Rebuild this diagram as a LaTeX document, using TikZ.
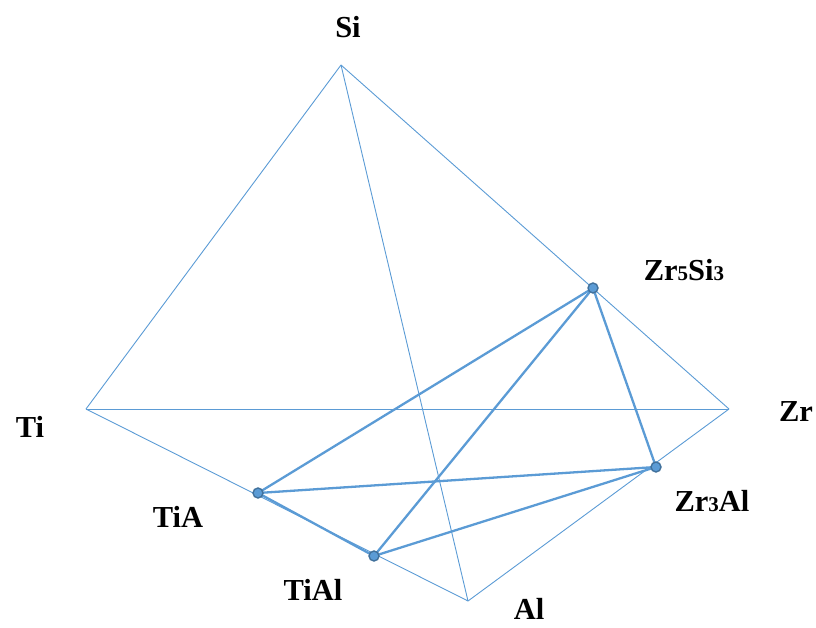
\documentclass[tikz,border=0pt]{standalone}
\usepackage{fontspec}
\setmainfont{Liberation Serif}
\begin{document}
\begin{tikzpicture}[x=1pt,y=-1pt,
  thinedge/.style={draw=edgeblue,line width=0.9pt},
  thickedge/.style={draw=edgeblue,line width=2.3pt},
  dot/.style={circle,fill=edgeblue,draw=dotborder,line width=1.4pt,inner sep=0pt,minimum size=10pt},
  lbl/.style={font=\fontsize{30.5}{33}\selectfont\bfseries,inner sep=0pt}]
\definecolor{edgeblue}{RGB}{91,155,213}
\definecolor{dotborder}{RGB}{65,113,156}
\useasboundingbox (0,0) rectangle (816,628);
\coordinate (si) at (341,65);
\coordinate (ti) at (86,409);
\coordinate (zr) at (729,409);
\coordinate (al) at (468,601);
\coordinate (zs) at (593,288);
\coordinate (za) at (656,467);
\coordinate (ta) at (258,493);
\coordinate (tal) at (374,556);
\draw[thinedge] (si) -- (ti);
\draw[thinedge] (si) -- (zr);
\draw[thinedge] (si) -- (al);
\draw[thinedge] (ti) -- (zr);
\draw[thinedge] (ti) -- (al);
\draw[thinedge] (zr) -- (al);
\draw[thickedge] (zs) -- (ta);
\draw[thickedge] (zs) -- (tal);
\draw[thickedge] (zs) -- (za);
\draw[thickedge] (ta) -- (za);
\draw[thickedge] (ta) -- (tal);
\draw[thickedge] (tal) -- (za);
\node[dot] (dzs) at (zs) {};
\node[dot] (dza) at (za) {};
\node[dot] (dta) at (ta) {};
\node[dot] (dtal) at (tal) {};
\node[lbl] (lsi) at (348,27) {Si};
\node[lbl] (lti) at (30,427) {Ti};
\node[lbl] (lzr) at (796,412) {Zr};
\node[lbl] (lal) at (529,609) {Al};
\node[lbl] (lzs) at (684,270) {Zr{\fontsize{21}{22}\selectfont 5}Si{\fontsize{21}{22}\selectfont 3}};
\node[lbl] (lza) at (712,501) {Zr{\fontsize{21}{22}\selectfont 3}Al};
\node[lbl] (lta) at (178,517) {TiA};
\node[lbl] (ltal) at (313,590) {TiAl};
\end{tikzpicture}
\end{document}
